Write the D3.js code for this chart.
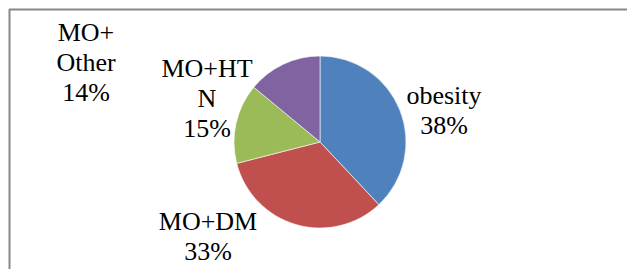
<!DOCTYPE html>
<html>
<head>
<meta charset="utf-8">
<script src="https://cdn.jsdelivr.net/npm/d3@7"></script>
<style>
  html, body { margin: 0; padding: 0; background: #fff; }
  svg { display: block; }
</style>
</head>
<body>
<script>
// slices, clockwise from 12 o'clock
var categories = ["obesity", "MO+DM", "MO+HTN", "MO+Other"];
var values = [38, 33, 15, 14];
// how each data label is broken into lines
var labelLines = [
  ["obesity", "38%"],
  ["MO+DM", "33%"],
  ["MO+HT", "N", "15%"],
  ["MO+", "Other", "14%"]
];

var colors = ["#4f81bd", "#c0504d", "#9bbb59", "#8064a2"];
// label anchor (center x, first baseline) relative to pie center
var labelOffset = [[124, -38], [-112, 88], [-113, -65], [-234, -101]];

var width = 627, height = 269;
var cx = 320, cy = 142, radius = 86;
var lineH = 30;
var serif = "Liberation Serif";

var data = categories.map(function (c, i) {
  return { name: c, value: values[i], lines: labelLines[i] };
});

var svg = d3.select("body").append("svg")
  .attr("width", width)
  .attr("height", height)
  .attr("font-family", serif);

// chart frame (only top and left edges are inside the crop)
svg.append("line")
  .attr("x1", 9).attr("y1", 9.5).attr("x2", width).attr("y2", 9.5)
  .attr("stroke", "#888").attr("stroke-width", 2);
svg.append("line")
  .attr("x1", 9.5).attr("y1", 9).attr("x2", 9.5).attr("y2", height)
  .attr("stroke", "#888").attr("stroke-width", 2);

var pie = d3.pie().sort(null).value(function (d) { return d.value; });
var arc = d3.arc().innerRadius(0).outerRadius(radius);

var g = svg.append("g").attr("transform", "translate(" + cx + "," + cy + ")");

g.selectAll("path")
  .data(pie(data))
  .enter()
  .append("path")
  .attr("d", arc)
  .attr("fill", function (d, i) { return colors[i]; })
  .attr("stroke", "#fff")
  .attr("stroke-width", 0.6);

var labels = g.selectAll("text.lbl")
  .data(data)
  .enter()
  .append("text")
  .attr("class", "lbl")
  .attr("font-family", serif)
  .attr("font-size", 26)
  .attr("fill", "#000")
  .attr("text-anchor", "middle");

labels.each(function (d, i) {
  var t = d3.select(this);
  d.lines.forEach(function (s, k) {
    t.append("tspan")
      .attr("font-family", serif)
      .attr("x", labelOffset[i][0])
      .attr("y", labelOffset[i][1] + k * lineH)
      .text(s);
  });
});
</script>
</body>
</html>
